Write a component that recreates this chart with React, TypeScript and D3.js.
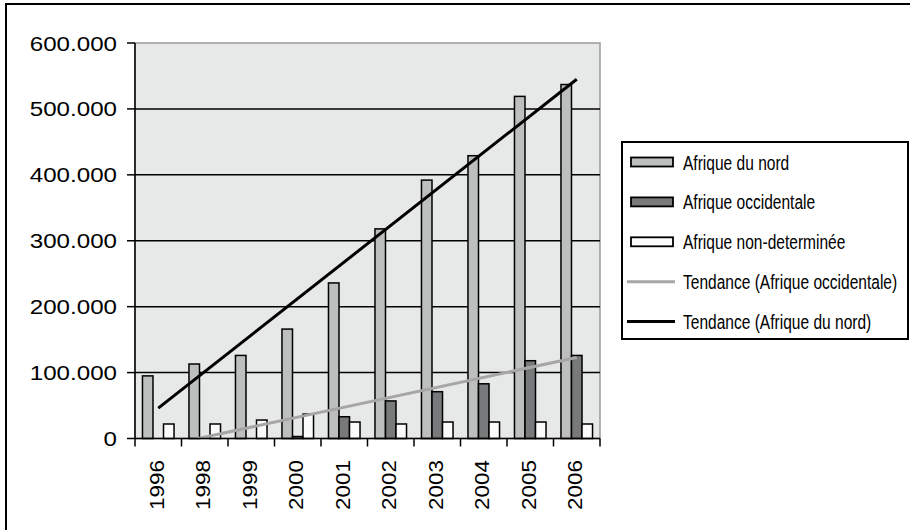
import { useEffect, useRef } from 'react'
import * as d3 from 'd3'

const W = 910, H = 530
const P = { left: 135, right: 600, top: 43, bottom: 438.5 }
const FONT = 'Liberation Sans, Arial, sans-serif'

// ── data ────────────────────────────────────────────────────────────────
const YEARS       = ['1996', '1998', '1999', '2000', '2001', '2002', '2003', '2004', '2005', '2006']
const NORD        = [95000, 113000, 126000, 166000, 236000, 318000, 392000, 429000, 519000, 537000]
const OCCIDENTALE = [0, 0, 0, 3000, 33000, 57000, 71000, 83000, 118000, 126000]
const NON_DET     = [22000, 22000, 28000, 37000, 25000, 22000, 25000, 25000, 25000, 22000]
// trend lines: value at first and last year
const TREND_NORD  = [46000, 545000]
const TREND_OCC   = [-13000, 123000]
const Y_TICKS     = [0, 100000, 200000, 300000, 400000, 500000, 600000]

const SERIES = [
  { key: 'nord', label: 'Afrique du nord',        values: NORD,        fill: '#bdbebe' },
  { key: 'occ',  label: 'Afrique occidentale',    values: OCCIDENTALE, fill: '#78797a' },
  { key: 'nd',   label: 'Afrique non-determinée', values: NON_DET,     fill: '#fbfbfb' },
]

const TRENDS = [
  { label: 'Tendance (Afrique occidentale)', values: TREND_OCC,  color: '#a6a6a6' },
  { label: 'Tendance (Afrique du nord)',     values: TREND_NORD, color: '#000000' },
]

const fmt = d3.formatLocale({ decimal: ',', thousands: '.', grouping: [3], currency: ['', ''] }).format(',')

export default function App() {
  const svgRef = useRef<SVGSVGElement>(null)

  useEffect(() => {
    const svg = d3.select(svgRef.current!)
    svg.selectAll('*').remove()

    // ── frame ─────────────────────────────────────────────────────────────
    svg.append('rect').attr('x', 0).attr('y', 0).attr('width', W).attr('height', H).attr('fill', '#fff')
    svg.append('rect').attr('x', 6).attr('y', 4).attr('width', 940).attr('height', 560)
      .attr('fill', 'none').attr('stroke', '#000').attr('stroke-width', 2)

    // ── scales ────────────────────────────────────────────────────────────
    const x = d3.scaleBand<string>().domain(YEARS).range([P.left, P.right]).padding(0)
    const xs = d3.scaleBand<string>().domain(SERIES.map(s => s.key))
      .range([0, x.bandwidth()]).paddingInner(0).paddingOuter(0.71)
    const y = d3.scaleLinear().domain([0, 600000]).range([P.bottom, P.top])
    const cx = (yr: string) => x(yr)! + x.bandwidth() / 2

    // ── plot area ─────────────────────────────────────────────────────────
    svg.append('rect')
      .attr('x', P.left).attr('y', P.top)
      .attr('width', P.right - P.left).attr('height', P.bottom - P.top)
      .attr('fill', '#e7e8e8').attr('stroke', '#9a9a9a').attr('stroke-width', 1.5)

    svg.selectAll('line.grid')
      .data(Y_TICKS.filter(t => t > 0 && t < 600000))
      .join('line').attr('class', 'grid')
      .attr('x1', P.left).attr('x2', P.right)
      .attr('y1', d => y(d)).attr('y2', d => y(d))
      .attr('stroke', '#000').attr('stroke-width', 1.5)

    // ── bars ──────────────────────────────────────────────────────────────
    SERIES.forEach(s => {
      svg.append('g').selectAll('rect')
        .data(s.values.map((v, i) => ({ yr: YEARS[i], v })).filter(d => d.v > 0))
        .join('rect')
        .attr('x', d => x(d.yr)! + xs(s.key)!)
        .attr('width', xs.bandwidth())
        .attr('y', d => y(d.v))
        .attr('height', d => P.bottom - y(d.v))
        .attr('fill', s.fill).attr('stroke', '#000').attr('stroke-width', 1.5)
    })

    // ── trend lines ───────────────────────────────────────────────────────
    svg.append('clipPath').attr('id', 'plotclip')
      .append('rect').attr('x', P.left).attr('y', P.top)
      .attr('width', P.right - P.left).attr('height', P.bottom - P.top)

    const ends = [YEARS[0], YEARS[YEARS.length - 1]]
    TRENDS.forEach(t => {
      svg.append('path')
        .attr('clip-path', 'url(#plotclip)')
        .attr('d', d3.line<number>().x((_, i) => cx(ends[i])).y(v => y(v))(t.values))
        .attr('fill', 'none').attr('stroke', t.color).attr('stroke-width', 3)
    })

    // ── axes ──────────────────────────────────────────────────────────────
    svg.append('line').attr('x1', P.left).attr('x2', P.left).attr('y1', P.top).attr('y2', P.bottom)
      .attr('stroke', '#000').attr('stroke-width', 1.5)
    svg.append('line').attr('x1', P.left).attr('x2', P.right).attr('y1', P.bottom).attr('y2', P.bottom)
      .attr('stroke', '#000').attr('stroke-width', 1.5)

    svg.selectAll('line.ytick').data(Y_TICKS).join('line').attr('class', 'ytick')
      .attr('x1', P.left - 8).attr('x2', P.left).attr('y1', d => y(d)).attr('y2', d => y(d))
      .attr('stroke', '#000').attr('stroke-width', 1.5)

    svg.selectAll('text.ylab').data(Y_TICKS).join('text').attr('class', 'ylab')
      .attr('transform', d => `translate(117,${y(d)}) scale(1.15,1)`)
      .attr('text-anchor', 'end').attr('dy', '0.36em')
      .attr('font-family', FONT).attr('font-size', 21).attr('fill', '#000')
      .text(d => fmt(d))

    const xticks = [...YEARS.map(yr => x(yr)!), P.right]
    svg.selectAll('line.xtick').data(xticks).join('line').attr('class', 'xtick')
      .attr('x1', d => d).attr('x2', d => d).attr('y1', P.bottom).attr('y2', P.bottom + 8)
      .attr('stroke', '#000').attr('stroke-width', 1.5)

    svg.selectAll('text.xlab').data(YEARS).join('text').attr('class', 'xlab')
      .attr('transform', d => `translate(${cx(d) - 2},460) rotate(-90) scale(1.07,1)`)
      .attr('text-anchor', 'end').attr('dy', '0.36em')
      .attr('font-family', FONT).attr('font-size', 21).attr('fill', '#000')
      .text(d => d)

    // ── legend ────────────────────────────────────────────────────────────
    const L = { x: 622, y: 142, w: 286, h: 197 }
    const lg = svg.append('g')
    lg.append('rect').attr('x', L.x).attr('y', L.y).attr('width', L.w).attr('height', L.h)
      .attr('fill', '#fff').attr('stroke', '#000').attr('stroke-width', 2)

    const rowY = (i: number) => 162 + i * 39.9
    SERIES.forEach((s, i) => {
      lg.append('rect').attr('x', 631).attr('y', rowY(i) - 4.5).attr('width', 42).attr('height', 9)
        .attr('fill', s.fill).attr('stroke', '#000').attr('stroke-width', 1.8)
    })
    TRENDS.forEach((t, j) => {
      const i = SERIES.length + j
      lg.append('line').attr('x1', 627).attr('x2', 675).attr('y1', rowY(i)).attr('y2', rowY(i))
        .attr('stroke', t.color).attr('stroke-width', 3)
    })
    const labels = [...SERIES.map(s => s.label), ...TRENDS.map(t => t.label)]
    lg.selectAll('text').data(labels).join('text')
      .attr('transform', (_, i) => `translate(683,${rowY(i)}) scale(0.74,1)`)
      .attr('dy', '0.36em')
      .attr('font-family', FONT).attr('font-size', 21).attr('fill', '#000')
      .text(d => d)
  }, [])

  return (
    <div style={{ position: 'absolute', left: 0, top: 0 }}>
      <svg ref={svgRef} width={W} height={H} viewBox={`0 0 ${W} ${H}`} style={{ display: 'block' }} />
    </div>
  )
}
